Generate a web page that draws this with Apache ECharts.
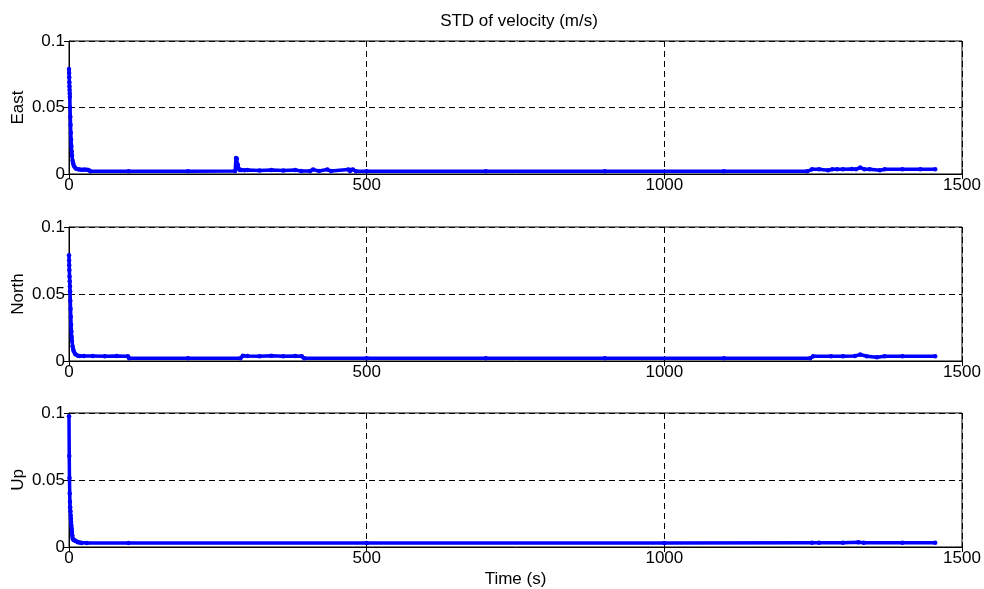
<!DOCTYPE html>
<html>
<head>
<meta charset="utf-8">
<script src="https://cdn.jsdelivr.net/npm/echarts@6/dist/echarts.min.js"></script>
<style>
html,body{margin:0;padding:0;background:#fff;}
#chart{width:984px;height:589px;}
</style>
</head>
<body>
<div id="chart"></div>
<script>
var titleText = 'STD of velocity (m/s)';
var panelNames = ['East', 'North', 'Up'];
var xLabel = 'Time (s)';
var xTicks = [0, 500, 1000, 1500];
var yTicks = [0, 0.05, 0.1];

var eastT = [0,0.2,0.4,0.6,0.8,1.0,1.2,1.4,1.8,2.2,2.6,3.0,3.5,4,4.5,5,6,7,8,10,12,15,18,22,26,30,33,36,100,200,279,280.5,282,283.5,285,287,290,295,300,320,340,360,380,390,405,410,420,434,440,469,472,477,482,500,700,900,1100,1240,1248,1260,1275,1282,1290,1300,1315,1322,1329,1336,1345,1362,1370,1400,1430,1455];
var eastV = [0.079,0.0759,0.0727,0.069,0.066,0.0632,0.0605,0.058,0.050,0.043,0.037,0.031,0.026,0.021,0.017,0.014,0.010,0.008,0.0062,0.0048,0.0040,0.0035,0.0033,0.0032,0.0033,0.0032,0.0031,0.002,0.002,0.002,0.0022,0.012,0.0115,0.007,0.004,0.003,0.003,0.0028,0.003,0.0026,0.003,0.0027,0.003,0.0022,0.0022,0.0034,0.0022,0.0034,0.0022,0.0033,0.0022,0.0034,0.002,0.002,0.002,0.002,0.002,0.002,0.0035,0.0035,0.0028,0.0035,0.0036,0.0035,0.0038,0.0035,0.0048,0.0036,0.0035,0.0028,0.0035,0.0035,0.0035,0.0035];

var northT = [0,0.2,0.4,0.6,0.9,1.2,1.5,1.8,2.2,2.6,3.0,3.5,4,4.5,5,6,7,8,10,12,15,18,25,40,60,80,99,101,200,288,292,300,320,340,360,380,391,395,500,700,900,1100,1245,1250,1280,1300,1320,1329,1340,1357,1370,1400,1455];
var northV = [0.079,0.075,0.0715,0.068,0.063,0.0596,0.0558,0.052,0.045,0.039,0.033,0.027,0.022,0.018,0.015,0.011,0.009,0.0072,0.0055,0.0046,0.0040,0.0037,0.0037,0.0037,0.0036,0.0037,0.0036,0.002,0.002,0.002,0.004,0.0038,0.0036,0.0039,0.0035,0.0038,0.0036,0.002,0.002,0.002,0.002,0.002,0.002,0.0035,0.0036,0.0036,0.0037,0.0048,0.0036,0.0028,0.0035,0.0035,0.0035];

var upT = [0,0.4,0.8,1.2,1.6,2.0,2.4,2.8,3.2,3.6,4.0,4.5,5,5.5,6,7,8,10,12,15,18,21,30,100,500,1000,1248,1260,1300,1326,1335,1400,1455];
var upV = [0.0975,0.068,0.0515,0.040,0.0338,0.0296,0.0266,0.0236,0.021,0.0187,0.016,0.0137,0.0112,0.0087,0.0067,0.0058,0.0052,0.0048,0.0042,0.0036,0.0033,0.003,0.003,0.003,0.003,0.003,0.0032,0.0032,0.0032,0.0036,0.0031,0.0032,0.0032];

function zip(t, v) { return t.map(function (x, i) { return [x, v[i]]; }); }
var seriesData = [zip(eastT, eastV), zip(northT, northV), zip(upT, upV)];

var font = 'Liberation Sans, Arial, Helvetica, sans-serif';
var fs = 17;
var tops = [41, 227, 413];
var heights = [133, 134, 134];

var grids = [], xAxes = [], yAxes = [], series = [];
for (var i = 0; i < 3; i++) {
  grids.push({left: 69, right: 22, top: tops[i], height: heights[i], show: true,
    containLabel: false, outerBoundsMode: 'none',
    borderColor: '#000', borderWidth: 1, backgroundColor: '#fff'});
  xAxes.push({type: 'value', gridIndex: i, min: xTicks[0], max: xTicks[xTicks.length-1], interval: 500,
    name: i === 2 ? xLabel : '', nameLocation: 'middle', nameGap: 24, nameMoveOverlap: false,
    nameTextStyle: {fontFamily: font, fontSize: fs, color: '#000'},
    axisLine: {show: true, lineStyle: {color: '#000', width: 1}},
    axisTick: {show: true, inside: true, length: 5, lineStyle: {color: '#000'}},
    axisLabel: {fontFamily: font, fontSize: fs, color: '#000', margin: 3,
      formatter: function (v) { return String(v); }},
    splitLine: {show: true, lineStyle: {color: '#000', type: [6, 4], width: 1}}});
  xAxes.push({type: 'value', gridIndex: i, position: 'top', min: xTicks[0], max: xTicks[xTicks.length-1], interval: 500,
    axisLine: {show: false}, axisLabel: {show: false}, splitLine: {show: false},
    axisTick: {show: true, inside: true, length: 5, lineStyle: {color: '#000'}}});
  yAxes.push({type: 'value', gridIndex: i, min: yTicks[0], max: yTicks[yTicks.length-1], interval: 0.05,
    name: panelNames[i], nameLocation: 'middle', nameGap: 42, nameRotate: 90, nameMoveOverlap: false,
    nameTextStyle: {fontFamily: font, fontSize: fs, color: '#000'},
    axisLine: {show: true, lineStyle: {color: '#000', width: 1}},
    axisTick: {show: true, inside: true, length: 5, lineStyle: {color: '#000'}},
    axisLabel: {fontFamily: font, fontSize: fs, color: '#000', margin: 4,
      formatter: function (v) { return String(+v.toFixed(2)); }},
    splitLine: {show: true, lineStyle: {color: '#000', type: [6, 4], width: 1}}});
  yAxes.push({type: 'value', gridIndex: i, position: 'right', min: 0, max: 0.1, interval: 0.05,
    axisLine: {show: false}, axisLabel: {show: false}, splitLine: {show: false},
    axisTick: {show: true, inside: true, length: 5, lineStyle: {color: '#000'}}});
  series.push({type: 'line', xAxisIndex: 2*i, yAxisIndex: 2*i, data: seriesData[i],
    showSymbol: true, showAllSymbol: true, symbol: 'circle', symbolSize: 4.5,
    itemStyle: {color: '#0000ff'}, lineStyle: {color: '#0000ff', width: 3.5},
    animation: false, silent: true, clip: true});
}

var chart = echarts.init(document.getElementById('chart'), null, {renderer: 'canvas'});
chart.setOption({
  backgroundColor: '#fff',
  animation: false,
  title: {text: titleText, left: 514, top: 8, textAlign: 'center',
    textStyle: {fontFamily: font, fontSize: fs, fontWeight: 'normal', color: '#000'}},
  grid: grids, xAxis: xAxes, yAxis: yAxes, series: series
});
</script>
</body>
</html>
